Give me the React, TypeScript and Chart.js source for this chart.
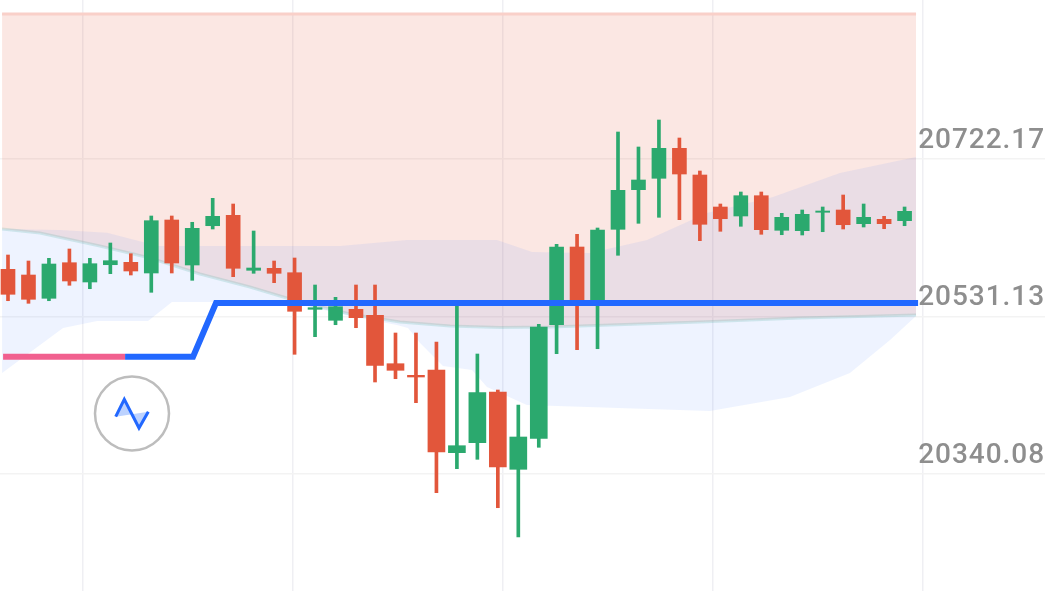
import React, { useEffect, useRef } from "react";
import { Chart, registerables } from "chart.js";

Chart.register(...registerables);

// Candle slots: the series has two small session gaps
const candleSlots = [
  0, 1, 2, 3, 4, 5, 6, 7, 8, 9, 10, 11, 12, 13, 14, 15, 16, 17,
  17.93, 18.93, 19.93, 20.93, 21.93, 22.93, 23.93, 24.93, 25.93,
  26.8, 27.8, 28.8, 29.8, 30.8, 31.8, 32.8, 33.8, 34.8, 35.8, 36.8, 37.8, 38.8, 39.8, 40.8, 41.8, 42.8, 43.8,
];
const opens = [
  20588.62, 20581.71, 20553.45, 20596.63, 20573.22, 20594.2, 20597.11, 20584.14, 20648.43, 20593.84, 20641.51, 20654.13,
  20587.41, 20589.84, 20584.5, 20540.1, 20526.76, 20540.1, 20532.82, 20474.11, 20460.04, 20466.47, 20366.16, 20378.29,
  20439.79, 20346.02, 20383.62, 20521.42, 20615.67, 20547.74, 20637.14, 20685.18, 20699.01, 20735.4, 20703.01, 20664.19,
  20653.28, 20677.9, 20635.93, 20635.45, 20657.77, 20660.56, 20643.94, 20649.27, 20647.58,
];
const closes = [
  20558.3, 20552.23, 20595.05, 20574.43, 20595.42, 20599.06, 20586.56, 20647.58, 20596.27, 20638.36, 20652.91, 20589.84,
  20590.2, 20583.77, 20537.68, 20542.04, 20543.26, 20529.92, 20472.17, 20466.11, 20457.98, 20367.0, 20374.65, 20438.94,
  20348.81, 20385.2, 20518.63, 20615.67, 20547.74, 20636.29, 20684.45, 20696.95, 20735.4, 20704.22, 20643.21, 20650.0,
  20677.9, 20636.66, 20651.7, 20655.34, 20659.34, 20642.72, 20651.7, 20643.94, 20658.98,
];
const highs = [
  20605.97, 20598.69, 20601.97, 20613.25, 20601.97, 20620.53, 20607.55, 20653.28, 20653.28, 20645.64, 20674.75, 20667.83,
  20635.08, 20598.69, 20602.33, 20569.58, 20554.66, 20569.58, 20569.58, 20511.35, 20511.35, 20500.44, 20547.74, 20485.88,
  20442.21, 20424.02, 20521.91, 20618.95, 20631.08, 20638.72, 20755.17, 20736.98, 20769.73, 20747.89, 20707.86, 20667.83,
  20682.39, 20682.39, 20656.55, 20660.56, 20664.19, 20678.75, 20667.83, 20652.91, 20664.19,
];
const lows = [
  20550.53, 20547.38, 20550.53, 20569.22, 20565.09, 20583.29, 20581.71, 20560.72, 20584.14, 20575.28, 20637.51, 20579.65,
  20583.77, 20572.37, 20485.52, 20506.87, 20521.42, 20517.78, 20451.92, 20455.92, 20426.81, 20317.63, 20346.75, 20358.15,
  20299.44, 20263.9, 20372.71, 20486.25, 20491.1, 20492.31, 20605.61, 20644.42, 20651.7, 20648.79, 20623.32, 20634.72,
  20640.78, 20631.08, 20630.59, 20630.23, 20634.23, 20637.51, 20639.93, 20637.87, 20641.51,
];
const wideFirst = 18;
const wideLast = 26;

// Upper limit of the red zone
const ceilingSlots = [-0.29, 44.36];
const ceilingValues = [20898.31, 20898.31];

// Central curve
const curveSlots = [-0.29, 1.56, 4.49, 6.94, 9.38, 11.82, 14.27, 16.71, 19.15, 21.59, 24.03, 26.48, 33.8, 38.69, 44.36];
const curveValues = [
  20637.51, 20632.66, 20616.89, 20602.33, 20582.92, 20567.15, 20548.96, 20534.4, 20524.7, 20519.84, 20518.03, 20518.63,
  20524.7, 20529.55, 20533.19,
];

// Blue cloud
const cloudTopSlots = [-0.29, 2.54, 4.84, 7.33, 16.22, 19.49, 23.89, 25.6, 28.43, 31.22, 34.15, 37.37, 40.64, 44.36];
const cloudTopValues = [
  20637.51, 20636.3, 20633.02, 20616.89, 20616.89, 20624.17, 20624.17, 20609.61, 20608.4, 20624.17, 20656.92, 20676.33,
  20705.44, 20724.85,
];
const cloudBottomSlots = [
  -0.29, 2.69, 4.35, 6.84, 8.01, 13.78, 16.71, 19.0, 19.54, 20.13, 21.25, 22.67, 23.4, 25.35, 34.29, 38.2, 41.13, 43.09,
  44.36,
];
const cloudBottomValues = [
  20462.83, 20517.42, 20525.91, 20525.91, 20548.96, 20548.96, 20531.98, 20521.06, 20517.42, 20499.22, 20471.32, 20466.47,
  20445.85, 20424.02, 20416.74, 20433.72, 20462.83, 20502.86, 20531.98,
];

// Stepped level line
const pinkSlots = [-0.24, 5.72];
const pinkValues = [20482.61, 20482.61];
const blueSlots = [5.72, 9.04, 10.16, 44.46];
const blueValues = [20482.61, 20482.61, 20547.74, 20547.74];

// Axes
const priceTicks = [20200.8, 20340.08, 20531.13, 20722.17, 20913.2];
const priceLabels = ["", "20340.08", "20531.13", "20722.17", ""];
const timeTicks = [3.63, 13.89, 24.15, 34.41, 44.67];

const GREEN = "#2BA96E";
const RED = "#E2563B";
const BLUE = "#2268FF";
const PINK = "#F1608F";

const pairs = (xs: number[], ys: number[]) => xs.map((x, i) => ({ x, y: ys[i] }));

const isUp = (i: number) => closes[i] > opens[i];
const isWide = (i: number) => i >= wideFirst && i <= wideLast;

function wicks(up: boolean) {
  return candleSlots.flatMap((x, i) => (isUp(i) === up ? [{ x, y: [lows[i], highs[i]] }] : []));
}
function bodies(up: boolean, wide: boolean) {
  return candleSlots.flatMap((x, i) =>
    isUp(i) === up && isWide(i) === wide ? [{ x, y: [opens[i], closes[i]] }] : []
  );
}

const labelSpacing = {
  id: "labelSpacing",
  beforeDraw(chart: any) {
    chart.ctx.letterSpacing = "0.95px";
  },
};

export default function App() {
  const ref = useRef<HTMLCanvasElement | null>(null);

  useEffect(() => {
    if (!ref.current) return;
    const bar = (data: any[], color: string, thickness: number, order: number) => ({
      type: "bar",
      data,
      backgroundColor: color,
      borderWidth: 0,
      barThickness: thickness,
      grouped: false,
      order,
    });
    const chart = new Chart(ref.current, {
      type: "bar",
      plugins: [labelSpacing],
      data: {
        datasets: [
          {
            type: "line",
            data: pairs(ceilingSlots, ceilingValues),
            borderColor: "#F9D0C9",
            borderWidth: 3,
            pointRadius: 0,
            backgroundColor: "rgba(226,86,59,0.14)",
            fill: { target: 1 },
            order: 12,
          },
          {
            type: "line",
            data: pairs(curveSlots, curveValues),
            borderColor: "rgba(100,180,170,0.24)",
            borderWidth: 3,
            pointRadius: 0,
            fill: false,
            order: 9,
          },
          {
            type: "line",
            data: pairs(cloudTopSlots, cloudTopValues),
            borderWidth: 0,
            borderColor: "transparent",
            pointRadius: 0,
            backgroundColor: "rgba(34,104,255,0.08)",
            fill: { target: 3 },
            order: 11,
          },
          {
            type: "line",
            data: pairs(cloudBottomSlots, cloudBottomValues),
            borderWidth: 0,
            borderColor: "transparent",
            pointRadius: 0,
            fill: false,
            order: 10,
          },
          bar(wicks(true), GREEN, 3, 6),
          bar(wicks(false), RED, 3, 6),
          bar(bodies(true, false), GREEN, 14, 5),
          bar(bodies(false, false), RED, 14, 5),
          bar(bodies(true, true), GREEN, 17, 5),
          bar(bodies(false, true), RED, 17, 5),
          {
            type: "line",
            data: pairs(pinkSlots, pinkValues),
            borderColor: PINK,
            borderWidth: 6,
            pointRadius: 0,
            fill: false,
            order: 2,
          },
          {
            type: "line",
            data: pairs(blueSlots, blueValues),
            borderColor: BLUE,
            borderWidth: 6,
            borderJoinStyle: "miter",
            pointRadius: 0,
            fill: false,
            order: 1,
          },
        ] as any,
      },
      options: {
        animation: false,
        responsive: false,
        devicePixelRatio: 1,
        events: [],
        layout: { padding: 0 },
        plugins: { legend: { display: false }, tooltip: { enabled: false } },
        scales: {
          x: {
            type: "linear",
            offset: false,
            min: -0.3908,
            max: 50.66,
            afterBuildTicks: (axis: any) => {
              axis.ticks = timeTicks.map((value) => ({ value }));
            },
            ticks: { display: false, autoSkip: false },
            border: { display: false },
            grid: { color: "#EFEFF3", lineWidth: 1.5, drawTicks: false, offset: false },
          },
          y: {
            type: "linear",
            position: "right",
            min: 20198.4,
            max: 20915.29,
            afterBuildTicks: (axis: any) => {
              axis.ticks = priceTicks.map((value) => ({ value }));
            },
            afterFit: (axis: any) => {
              axis.paddingTop = 0;
              axis.paddingBottom = 0;
            },
            ticks: {
              mirror: true,
              padding: 0,
              autoSkip: false,
              labelOffset: -18.5,
              color: "#8E8E8E",
              font: { family: "Roboto", size: 28, weight: "500" },
              callback: (value: any) => {
                const i = priceTicks.indexOf(Number(value));
                return i >= 0 && priceLabels[i] ? priceLabels[i] : null;
              },
            },
            border: { display: false },
            grid: { color: "#F3F3F3", lineWidth: 1.5, drawTicks: false },
          },
        },
      } as any,
    });
    return () => chart.destroy();
  }, []);

  return (
    <div style={{ position: "absolute", left: 0, top: 0, width: 1050, height: 591, overflow: "hidden", background: "#fff" }}>
      <canvas ref={ref} width={1045} height={591} style={{ position: "absolute", left: 0, top: 0, display: "block" }} />
      <svg width={1050} height={591} style={{ position: "absolute", left: 0, top: 0 }}>
        <circle cx={132} cy={413.5} r={37} fill="none" stroke="#BDBDBD" strokeWidth={2.5} />
        <polygon points="115.7,416.7 124.3,399.3 139,428 148.3,411.7" fill="#BCD2FF" />
        <polyline points="115.7,416.7 124.3,399.3 139,428 148.3,411.7" fill="none" stroke={BLUE} strokeWidth={3} strokeLinejoin="miter" />
      </svg>
    </div>
  );
}
